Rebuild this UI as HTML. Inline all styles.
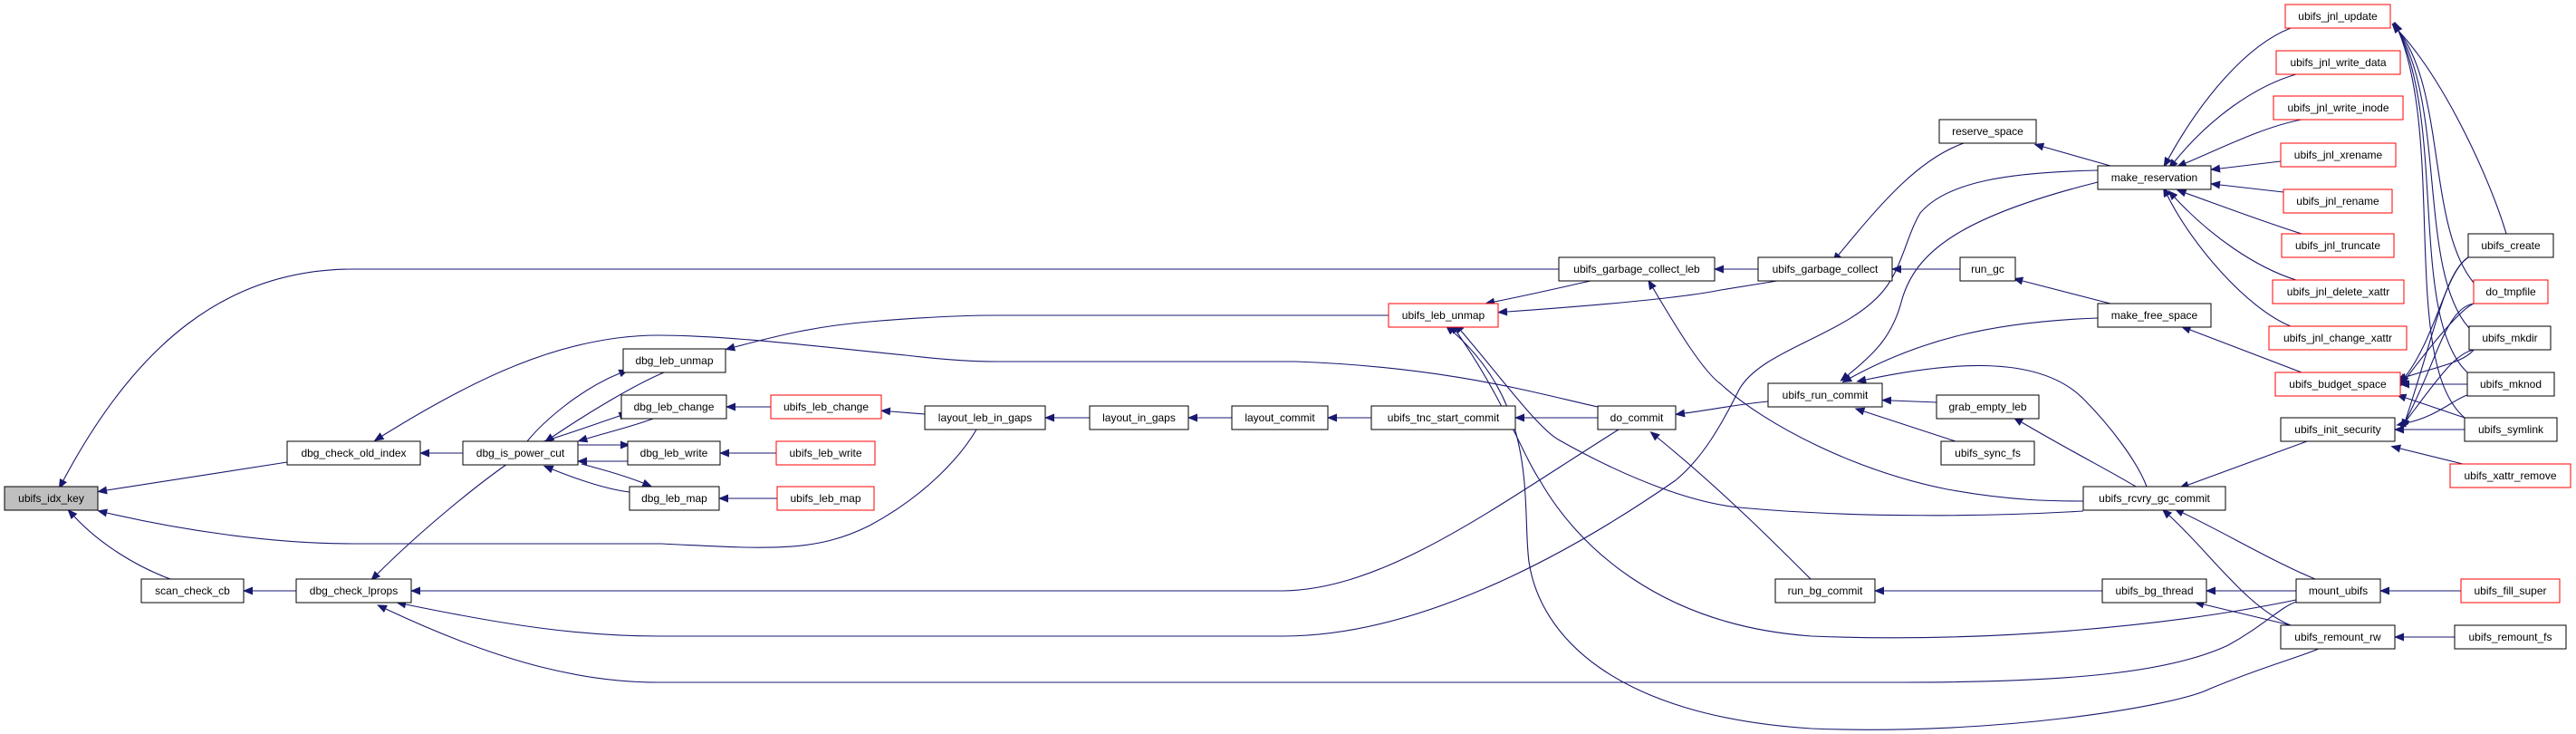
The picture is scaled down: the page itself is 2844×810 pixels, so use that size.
<!DOCTYPE html>
<html><head><meta charset="utf-8"><style>
html,body{margin:0;padding:0;background:#fff;}
svg{display:block;}
text{font-family:"Liberation Sans",Arial,sans-serif;font-size:12px;fill:#000;}
.e{fill:none;stroke:#191970;stroke-width:1.1;}
.b{fill:#fff;stroke:#000;stroke-width:1;}
.r{fill:#fff;stroke:#ff0000;stroke-width:1;}
.g{fill:#bfbfbf;stroke:#000;stroke-width:1;}
</style></head><body>
<svg width="2844" height="810" viewBox="0 0 2844 810" xmlns="http://www.w3.org/2000/svg">
<defs>
<marker id="a" viewBox="0 0 11 9" refX="0" refY="4.5" markerWidth="11" markerHeight="9" markerUnits="userSpaceOnUse" orient="auto-start-reverse">
<path d="M0,0 L11,4.5 L0,9 z" fill="#191970"/>
</marker>
</defs>
<g class="e" marker-start="url(#a)">
<path d="M70,530 C150,380 250,297 390,297 L1721,297"/>
<path d="M118,541 C200,528 280,516 317,510"/>
<path d="M118,566 C200,585 300,600 390,600 L730,600 C850,606 900,610 960,580 C1020,548 1060,505 1078,474"/>
<path d="M82,570 C110,600 150,625 188,639"/>
<path d="M474,500 L511,500"/>
<path d="M422,481 C520,420 620,370 727,370 C800,370 900,382 1000,392 C1050,398 1080,399 1100,399 L1430,399 C1600,405 1700,435 1764,449"/>
<path d="M684,412 C640,430 600,465 582,487"/>
<path d="M610,482 C650,455 700,425 733,411"/>
<path d="M684,459 C660,467 630,478 600,487"/>
<path d="M648,484 C675,476 700,470 721,462"/>
<path d="M685,491 L638,491"/>
<path d="M648,509 L693,509"/>
<path d="M710,533 C690,525 665,518 642,512"/>
<path d="M610,518 C640,530 670,540 695,543"/>
<path d="M417,633 C460,590 520,540 560,512"/>
<path d="M812,449 L851,449"/>
<path d="M805,500 L857,500"/>
<path d="M804,550 L858,550"/>
<path d="M983,454 L1021,457"/>
<path d="M1164,461 L1203,461"/>
<path d="M1322,461 L1360,461"/>
<path d="M1476,461 L1514,461"/>
<path d="M1683,461 L1764,461"/>
<path d="M1860,456 C1890,452 1920,446 1952,443"/>
<path d="M279,652 L327,652"/>
<path d="M811,383 C860,370 900,360 960,355 C1020,350 1060,348 1100,348 L1533,348"/>
<path d="M1650,333 C1690,325 1720,318 1756,310"/>
<path d="M1664,344 C1750,338 1850,330 1900,320 C1930,315 1950,312 1962,310"/>
<path d="M1613,365 C1660,420 1700,475 1722,486 C1800,530 1870,555 1920,560 C2050,572 2200,570 2300,564"/>
<path d="M1608,366 C1660,440 1680,500 1700,530 C1740,600 1830,690 2000,702 C2200,710 2400,690 2535,662"/>
<path d="M1604,366 C1700,450 1680,560 1688,620 C1700,700 1780,790 2000,804 C2200,812 2400,780 2440,760 C2500,735 2540,725 2562,715"/>
<path d="M464,652 L1417,652 C1530,650 1650,560 1787,474"/>
<path d="M448,667 C560,690 640,702 727,702 L1417,702 C1560,702 1720,620 1850,530 C1880,505 1900,470 1920,430 C1945,385 2040,370 2080,320 C2100,295 2105,260 2120,235 C2150,200 2220,190 2316,188"/>
<path d="M426,672 C560,735 650,753 727,753 L2100,753 C2300,753 2400,740 2460,712 C2500,690 2520,668 2536,664"/>
<path d="M1903,297 L1941,297"/>
<path d="M1825,318 C1850,360 1880,410 1900,424 C1950,470 2050,520 2150,540 C2220,553 2270,553 2300,553"/>
<path d="M2030,281 C2080,220 2120,175 2168,158"/>
<path d="M2099,297 L2164,297"/>
<path d="M2233,310 L2330,335"/>
<path d="M2256,162 L2330,183"/>
<path d="M1830,483 C1900,540 1960,600 1999,639"/>
<path d="M2394,175 C2430,110 2480,50 2529,31"/>
<path d="M2401,178 C2440,130 2490,95 2535,82"/>
<path d="M2413,180 C2460,160 2500,140 2541,132"/>
<path d="M2451,186 L2518,178"/>
<path d="M2451,204 L2521,212"/>
<path d="M2413,213 C2460,230 2500,245 2541,258"/>
<path d="M2401,218 C2440,260 2490,295 2535,309"/>
<path d="M2393,216 C2420,270 2480,340 2529,360"/>
<path d="M2040,414 C2070,390 2090,370 2100,330 C2115,280 2160,240 2316,201"/>
<path d="M2043,417 C2120,375 2200,355 2316,351"/>
<path d="M2060,419 C2150,400 2250,390 2300,440 C2330,470 2360,510 2370,537"/>
<path d="M2088,442 L2138,444"/>
<path d="M2058,454 L2159,487"/>
<path d="M2418,364 L2541,411"/>
<path d="M2232,466 C2290,500 2330,520 2358,537"/>
<path d="M2416,535 L2547,487"/>
<path d="M2410,566 C2460,590 2510,620 2556,639"/>
<path d="M2395,569 C2440,610 2480,670 2529,690"/>
<path d="M2080,652 L2321,652"/>
<path d="M2446,652 L2535,652"/>
<path d="M2433,667 L2529,690"/>
<path d="M2638,652 L2717,652"/>
<path d="M2654,703 L2710,703"/>
<path d="M2660,424 L2724,424"/>
<path d="M2656,416 C2690,405 2720,400 2731,386"/>
<path d="M2656,415 C2690,370 2700,300 2725,284"/>
<path d="M2656,418 C2700,360 2720,340 2731,335"/>
<path d="M2656,439 L2721,461"/>
<path d="M2654,474 L2721,474"/>
<path d="M2656,467 C2690,460 2710,440 2724,436"/>
<path d="M2656,465 C2690,420 2710,390 2731,386"/>
<path d="M2656,464 C2690,400 2700,340 2731,335"/>
<path d="M2656,463 C2690,360 2700,300 2725,284"/>
<path d="M2650,495 L2719,512"/>
<path d="M2648,34 C2700,90 2750,200 2767,258"/>
<path d="M2648,34 C2700,100 2680,250 2731,312"/>
<path d="M2648,34 C2700,120 2670,300 2726,362"/>
<path d="M2648,34 C2700,140 2660,350 2724,411"/>
<path d="M2648,34 C2700,160 2650,400 2721,461"/>
</g>
<g>
<rect class="g" x="5" y="537" width="103" height="26"/><text x="56.5" y="554" text-anchor="middle">ubifs_idx_key</text>
<rect class="b" x="317" y="487" width="147" height="26"/><text x="390.5" y="504" text-anchor="middle">dbg_check_old_index</text>
<rect class="b" x="511" y="487" width="127" height="26"/><text x="574.5" y="504" text-anchor="middle">dbg_is_power_cut</text>
<rect class="b" x="688" y="385" width="113" height="26"/><text x="744.5" y="402" text-anchor="middle">dbg_leb_unmap</text>
<rect class="b" x="686" y="436" width="116" height="26"/><text x="744" y="453" text-anchor="middle">dbg_leb_change</text>
<rect class="b" x="693" y="487" width="102" height="26"/><text x="744" y="504" text-anchor="middle">dbg_leb_write</text>
<rect class="b" x="695" y="537" width="99" height="26"/><text x="744.5" y="554" text-anchor="middle">dbg_leb_map</text>
<rect class="r" x="851" y="436" width="122" height="26"/><text x="912" y="453" text-anchor="middle">ubifs_leb_change</text>
<rect class="r" x="857" y="487" width="109" height="26"/><text x="911.5" y="504" text-anchor="middle">ubifs_leb_write</text>
<rect class="r" x="858" y="537" width="107" height="26"/><text x="911.5" y="554" text-anchor="middle">ubifs_leb_map</text>
<rect class="b" x="156" y="639" width="113" height="26"/><text x="212.5" y="656" text-anchor="middle">scan_check_cb</text>
<rect class="b" x="327" y="639" width="127" height="26"/><text x="390.5" y="656" text-anchor="middle">dbg_check_lprops</text>
<rect class="b" x="1721" y="284" width="172" height="26"/><text x="1807" y="301" text-anchor="middle">ubifs_garbage_collect_leb</text>
<rect class="r" x="1533" y="335" width="121" height="26"/><text x="1593.5" y="352" text-anchor="middle">ubifs_leb_unmap</text>
<rect class="b" x="1021" y="448" width="133" height="26"/><text x="1087.5" y="465" text-anchor="middle">layout_leb_in_gaps</text>
<rect class="b" x="1203" y="448" width="109" height="26"/><text x="1257.5" y="465" text-anchor="middle">layout_in_gaps</text>
<rect class="b" x="1360" y="448" width="106" height="26"/><text x="1413" y="465" text-anchor="middle">layout_commit</text>
<rect class="b" x="1514" y="448" width="159" height="26"/><text x="1593.5" y="465" text-anchor="middle">ubifs_tnc_start_commit</text>
<rect class="b" x="1764" y="448" width="86" height="26"/><text x="1807" y="465" text-anchor="middle">do_commit</text>
<rect class="b" x="2141" y="132" width="107" height="26"/><text x="2194.5" y="149" text-anchor="middle">reserve_space</text>
<rect class="b" x="2316" y="183" width="125" height="26"/><text x="2378.5" y="200" text-anchor="middle">make_reservation</text>
<rect class="b" x="1941" y="284" width="148" height="26"/><text x="2015" y="301" text-anchor="middle">ubifs_garbage_collect</text>
<rect class="b" x="2164" y="284" width="61" height="26"/><text x="2194.5" y="301" text-anchor="middle">run_gc</text>
<rect class="b" x="2316" y="335" width="125" height="26"/><text x="2378.5" y="352" text-anchor="middle">make_free_space</text>
<rect class="b" x="1952" y="423" width="126" height="26"/><text x="2015" y="440" text-anchor="middle">ubifs_run_commit</text>
<rect class="b" x="2138" y="436" width="113" height="26"/><text x="2194.5" y="453" text-anchor="middle">grab_empty_leb</text>
<rect class="b" x="2143" y="487" width="103" height="26"/><text x="2194.5" y="504" text-anchor="middle">ubifs_sync_fs</text>
<rect class="b" x="2300" y="537" width="157" height="26"/><text x="2378.5" y="554" text-anchor="middle">ubifs_rcvry_gc_commit</text>
<rect class="b" x="1960" y="639" width="110" height="26"/><text x="2015" y="656" text-anchor="middle">run_bg_commit</text>
<rect class="b" x="2321" y="639" width="115" height="26"/><text x="2378.5" y="656" text-anchor="middle">ubifs_bg_thread</text>
<rect class="b" x="2535" y="639" width="93" height="26"/><text x="2581.5" y="656" text-anchor="middle">mount_ubifs</text>
<rect class="b" x="2518" y="690" width="126" height="26"/><text x="2581" y="707" text-anchor="middle">ubifs_remount_rw</text>
<rect class="b" x="2710" y="690" width="123" height="26"/><text x="2771.5" y="707" text-anchor="middle">ubifs_remount_fs</text>
<rect class="r" x="2717" y="639" width="109" height="26"/><text x="2771.5" y="656" text-anchor="middle">ubifs_fill_super</text>
<rect class="r" x="2523" y="5" width="116" height="26"/><text x="2581" y="22" text-anchor="middle">ubifs_jnl_update</text>
<rect class="r" x="2513" y="56" width="137" height="26"/><text x="2581.5" y="73" text-anchor="middle">ubifs_jnl_write_data</text>
<rect class="r" x="2510" y="106" width="143" height="26"/><text x="2581.5" y="123" text-anchor="middle">ubifs_jnl_write_inode</text>
<rect class="r" x="2518" y="158" width="127" height="26"/><text x="2581.5" y="175" text-anchor="middle">ubifs_jnl_xrename</text>
<rect class="r" x="2521" y="209" width="120" height="26"/><text x="2581" y="226" text-anchor="middle">ubifs_jnl_rename</text>
<rect class="r" x="2519" y="258" width="124" height="26"/><text x="2581" y="275" text-anchor="middle">ubifs_jnl_truncate</text>
<rect class="r" x="2509" y="309" width="145" height="26"/><text x="2581.5" y="326" text-anchor="middle">ubifs_jnl_delete_xattr</text>
<rect class="r" x="2505" y="360" width="152" height="26"/><text x="2581" y="377" text-anchor="middle">ubifs_jnl_change_xattr</text>
<rect class="r" x="2512" y="411" width="138" height="26"/><text x="2581" y="428" text-anchor="middle">ubifs_budget_space</text>
<rect class="b" x="2518" y="461" width="126" height="26"/><text x="2581" y="478" text-anchor="middle">ubifs_init_security</text>
<rect class="b" x="2725" y="258" width="94" height="26"/><text x="2772" y="275" text-anchor="middle">ubifs_create</text>
<rect class="r" x="2731" y="309" width="82" height="26"/><text x="2772" y="326" text-anchor="middle">do_tmpfile</text>
<rect class="b" x="2726" y="360" width="90" height="26"/><text x="2771" y="377" text-anchor="middle">ubifs_mkdir</text>
<rect class="b" x="2724" y="411" width="96" height="26"/><text x="2772" y="428" text-anchor="middle">ubifs_mknod</text>
<rect class="b" x="2721" y="461" width="102" height="26"/><text x="2772" y="478" text-anchor="middle">ubifs_symlink</text>
<rect class="r" x="2705" y="512" width="133" height="26"/><text x="2771.5" y="529" text-anchor="middle">ubifs_xattr_remove</text>
</g>
</svg>
</body></html>
